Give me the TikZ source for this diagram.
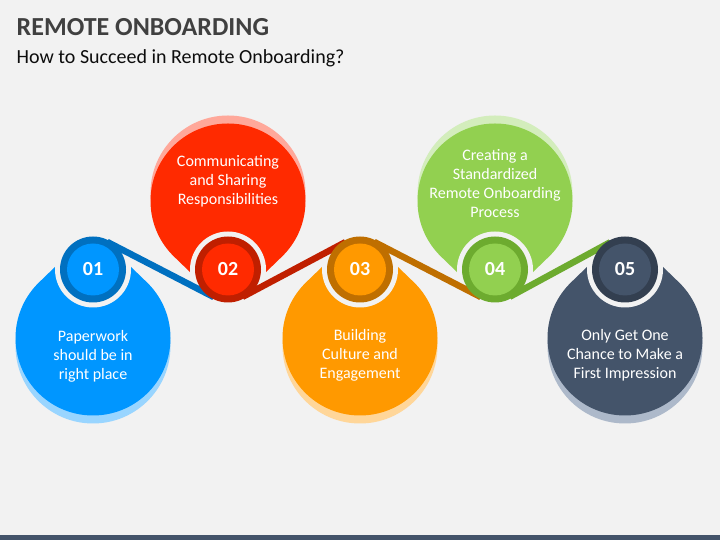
\documentclass[tikz,border=0pt]{standalone}
\usepackage{fontspec}
\setmainfont{Carlito}
\usetikzlibrary{calc}
\definecolor{bg}{HTML}{F2F2F2}
\definecolor{bar}{HTML}{44546A}
\definecolor{titlec}{HTML}{404040}
\definecolor{subc}{HTML}{0D0D0D}
\definecolor{blueF}{HTML}{0096FF}
\definecolor{blueR}{HTML}{0070C0}
\definecolor{blueS}{HTML}{99D5FF}
\definecolor{redF}{HTML}{FF2A00}
\definecolor{redR}{HTML}{C01F00}
\definecolor{redS}{HTML}{FFA89A}
\definecolor{orF}{HTML}{FF9900}
\definecolor{orR}{HTML}{BF6F00}
\definecolor{orS}{HTML}{FFD699}
\definecolor{grF}{HTML}{92D050}
\definecolor{grR}{HTML}{6DAB2F}
\definecolor{grS}{HTML}{D3EDBC}
\definecolor{slF}{HTML}{44546A}
\definecolor{slR}{HTML}{333F50}
\definecolor{slS}{HTML}{ADB9CA}
\begin{document}
\begin{tikzpicture}[x=1pt,y=1pt,
  dropshape/.pic={\path[pic actions] (-37,72) -- (135:77.5) arc[start angle=135,end angle=405,radius=77.5] -- (37,72) -- cycle;},
  whitering/.style={circle,inner sep=0pt,outer sep=0pt,minimum size=76pt,fill=bg},
  darkring/.style={circle,inner sep=0pt,outer sep=0pt,minimum size=66pt},
  innerdisk/.style={circle,inner sep=0pt,outer sep=0pt,minimum size=52pt,text=white,font=\fontsize{20}{24}\selectfont\bfseries},
  ribbon/.style={line width=6.5pt,line cap=butt},
  bodytext/.style={align=center,text=white,inner sep=0pt,font=\fontsize{16}{19}\selectfont},
  shadowdisk/.style={circle,inner sep=0pt,outer sep=0pt,minimum size=155pt}]
\useasboundingbox (0,0) rectangle (720,540);
\fill[bg] (0,0) rectangle (720,540);
\fill[bar] (0,0) rectangle (720,5);
% titles
\node[anchor=base west,inner sep=0pt,text=titlec,font=\fontsize{26}{31}\selectfont\bfseries] (title) at (16.5,504.3) {REMOTE ONBOARDING};
\node[anchor=base west,inner sep=0pt,text=subc,font=\fontsize{20}{24}\selectfont] (subtitle) at (16.5,476.7) {How to Succeed in Remote Onboarding?};
% shadows
\node[shadowdisk,fill=blueS] (s1) at (93,194) {};
\node[shadowdisk,fill=redS] (s2) at (228,347) {};
\node[shadowdisk,fill=orS] (s3) at (360,194) {};
\node[shadowdisk,fill=grS] (s4) at (495,347) {};
\node[shadowdisk,fill=slS] (s5) at (625,194) {};
% drops
\pic[fill=blueF] (d1) at (93,202) {dropshape};
\pic[fill=redF,yscale=-1] (d2) at (228,339) {dropshape};
\pic[fill=orF] (d3) at (360,202) {dropshape};
\pic[fill=grF,yscale=-1] (d4) at (495,339) {dropshape};
\pic[fill=slF] (d5) at (625,202) {dropshape};
% white rings
\node[whitering] (w1) at (93,270.5) {};
\node[whitering] (w2) at (228,270.5) {};
\node[whitering] (w3) at (360,270.5) {};
\node[whitering] (w4) at (495,270.5) {};
\node[whitering] (w5) at (625,270.5) {};
% ribbons
\draw[ribbon,draw=blueR] ($(w1.center)+(62.7:31)$) -- ($(w2.center)+(242.7:31)$);
\draw[ribbon,draw=redR] ($(w2.center)+(298:31)$) -- ($(w3.center)+(118:31)$);
\draw[ribbon,draw=orR] ($(w3.center)+(62.7:31)$) -- ($(w4.center)+(242.7:31)$);
\draw[ribbon,draw=grR] ($(w4.center)+(298.5:31)$) -- ($(w5.center)+(118.5:31)$);
% dark rings
\node[darkring,fill=blueR] (r1) at (w1) {};
\node[darkring,fill=redR] (r2) at (w2) {};
\node[darkring,fill=orR] (r3) at (w3) {};
\node[darkring,fill=grR] (r4) at (w4) {};
\node[darkring,fill=slR] (r5) at (w5) {};
% inner disks with numbers
\node[innerdisk,fill=blueF] (n1) at (w1) {01};
\node[innerdisk,fill=redF] (n2) at (w2) {02};
\node[innerdisk,fill=orF] (n3) at (w3) {03};
\node[innerdisk,fill=grF] (n4) at (w4) {04};
\node[innerdisk,fill=slF] (n5) at (w5) {05};
% texts
\node[bodytext] (t1) at (93,182.8) {\strut Paperwork\\should be in\\right place\strut};
\node[bodytext] (t2) at (228,358.1) {\strut Communicating\\and Sharing\\Responsibilities\strut};
\node[bodytext] (t3) at (360,184.1) {\strut Building\\Culture and\\Engagement\strut};
\node[bodytext] (t4) at (495,354.3) {\strut Creating a\\Standardized\\Remote Onboarding\\Process\strut};
\node[bodytext] (t5) at (625,183.8) {\strut Only Get One\\Chance to Make a\\First Impression\strut};
\end{tikzpicture}
\end{document}
